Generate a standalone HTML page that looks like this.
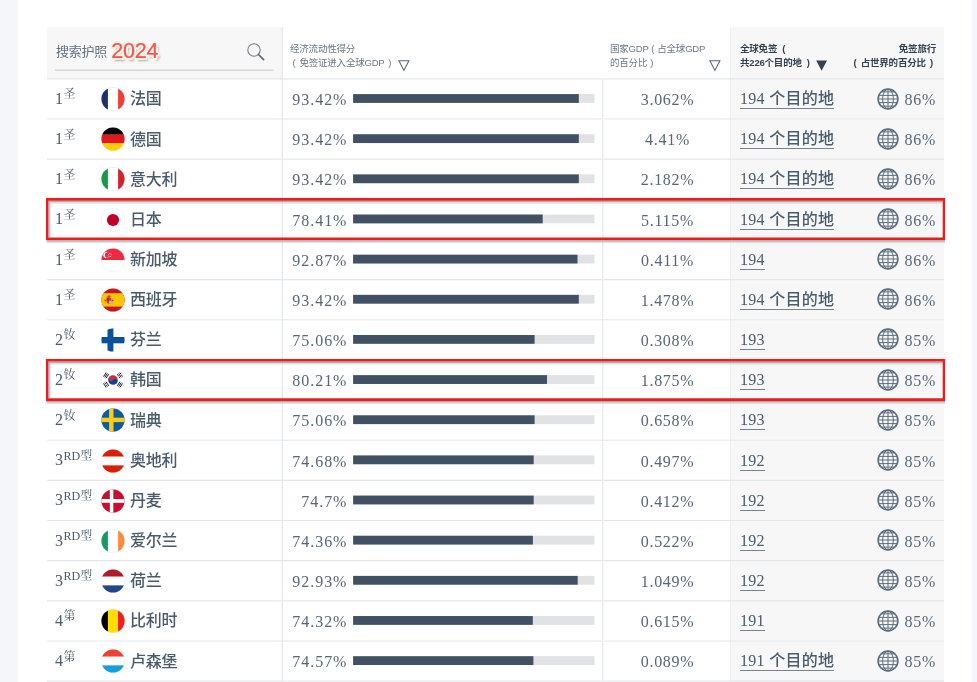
<!DOCTYPE html>
<html lang="zh-CN">
<head>
<meta charset="utf-8">
<title>护照指数 2024</title>
<style>
html,body{margin:0;padding:0;}
body{width:977px;height:682px;overflow:hidden;background:#fff;position:relative;
 font-family:"Liberation Serif","Noto Sans CJK SC",serif;color:#4a5b6c;}
.lstrip{position:absolute;left:0;top:0;width:18px;height:682px;background:#f4f6fa;}
.rstrip{position:absolute;left:972px;top:0;width:5px;height:682px;background:#f4f6fa;}
.tbl{position:absolute;left:47px;top:27px;width:897px;height:655px;}
.greycol{position:absolute;left:683px;top:0;width:213.5px;height:655px;background:#f7f7f7;border-left:1px solid #eef0f1;box-sizing:border-box}
.hd{position:absolute;left:0;top:0;width:897px;height:51px;}
.hd .c1{position:absolute;left:0;top:0;width:235px;height:51.5px;background:#f7f7f7;}
.search{position:absolute;left:9px;top:0;width:218px;height:42.5px;}
.search .lbl{position:absolute;left:0;top:16.5px;font:13px/16px "Liberation Sans","Noto Sans CJK SC",sans-serif;color:#62717f;letter-spacing:-0.25px}
.search .yr{position:absolute;left:55.3px;top:12px;font:21.5px/24px "Liberation Sans","Noto Sans CJK SC",sans-serif;color:#f6534f;-webkit-text-stroke:0.2px #f6534f;
 text-shadow:-1.5px -1.5px 0 #f6f1e6,1.5px -1.5px 0 #f6f1e6,-1.5px 1.5px 0 #f6f1e6,1.5px 1.5px 0 #f6f1e6,0 -2px 0 #f6f1e6,0 2px 0 #f6f1e6,-2px 0 0 #f6f1e6,2px 0 0 #f6f1e6,2.5px 2.5px 2px rgba(90,90,80,.5);letter-spacing:-0.2px}
.search svg{position:absolute;left:190px;top:15.4px;}
.hl{word-spacing:2.5px;position:absolute;font:9.5px/14px "Liberation Sans","Noto Sans CJK SC",sans-serif;color:#687785;white-space:nowrap;letter-spacing:-0.2px}
.hb{font-weight:bold;color:#34424f;}
.l2{padding-left:2.5px;word-spacing:1.5px}
.tri{position:absolute;}
.row{position:absolute;left:0;width:897px;height:40.15px;}
.row .v1{position:absolute;left:235px;top:0;width:1px;height:100%;background:#e2e5e8;}
.row .v2{position:absolute;left:556px;top:0;width:1px;height:100%;background:#e2e5e8;}
.rank{position:absolute;left:7.9px;top:10.6px;font-size:16px;line-height:20px;white-space:nowrap;}
.rank sup{font-family:"Liberation Serif","Noto Serif CJK SC",serif;font-size:12px;line-height:0;vertical-align:baseline;position:relative;top:-5.6px;margin-left:0.6px}
.flag{position:absolute;left:53.5px;top:8.8px;}
.name{position:absolute;left:83px;top:9px;font:500 16px/24px "Liberation Sans","Noto Sans CJK SC",sans-serif;color:#4a5b6c;white-space:nowrap;letter-spacing:-0.3px}
.score{position:absolute;left:236px;top:10.8px;width:64.4px;text-align:right;font-size:16px;line-height:22px;letter-spacing:0.95px;color:#56677a}
.bar{position:absolute;left:306px;top:16.5px;width:241px;height:8px;background:#dfe2e5;}
.bar i{display:block;height:8px;background:#3f5061;}
.gdp{position:absolute;left:557px;top:10.8px;color:#56677a;width:127px;text-align:center;font-size:16px;line-height:22px;letter-spacing:0.7px;}
.dest{font-weight:500;position:absolute;left:693px;top:9.8px;font-size:16px;line-height:22px;white-space:nowrap;letter-spacing:0.3px}
.dest span{border-bottom:1px solid #76838f;padding-bottom:0px;display:inline-block;line-height:18px}
.globe{position:absolute;left:829.8px;top:9.2px;}
.pct{position:absolute;left:840px;top:10.8px;color:#56677a;width:49px;text-align:right;font-size:16px;line-height:22px;letter-spacing:0.7px;}
.red{position:absolute;left:46px;width:899px;height:41.5px;box-sizing:border-box;border:2px solid #e8211d;
 box-shadow:1px 2px 2px rgba(70,80,90,.55), inset 1px 2px 2px rgba(70,80,90,.45);}
</style>
</head>
<body>
<div class="lstrip"></div><div class="rstrip"></div>
<div class="tbl">
<div class="greycol"></div>
<div class="hd">
 <div class="c1"><div class="search"><span class="lbl">搜索护照</span><span class="yr">2024</span>
 <svg width="22" height="22" viewBox="0 0 22 22" fill="none" stroke="#5a6a79"><circle cx="8" cy="8" r="6.2" stroke-width="1.1" stroke="#728190"/><path d="M12.5 12.5L17.6 17.6" stroke-width="1.7" stroke-linecap="round"/></svg></div></div>
 <div class="hl" style="left:243px;top:14.6px">经济流动性得分<br><span class="l2">( 免签证进入全球GDP )</span></div>
 <svg class="tri" style="left:350.8px;top:33px" width="12" height="12" viewBox="0 0 12 12"><path d="M0.9 0.8h10L5.9 10.4z" fill="none" stroke="#56687a" stroke-width="1.1"/></svg>
 <div class="hl" style="left:563px;top:14.6px;word-spacing:0.5px">国家GDP ( 占全球GDP<br>的百分比 )</div>
 <svg class="tri" style="left:661.8px;top:33.4px" width="12" height="12" viewBox="0 0 12 12"><path d="M0.9 0.8h10L5.9 10.4z" fill="none" stroke="#56687a" stroke-width="1.1"/></svg>
 <div class="hl hb" style="left:693px;top:14.6px">全球免签 (<br>共226个目的地 )</div>
 <svg class="tri" style="left:769.2px;top:33.4px" width="12" height="12" viewBox="0 0 12 12"><path d="M0.2 0.4h10.8L5.6 10.8z" fill="#34424f"/></svg>
 <div class="hl hb" style="right:8px;top:14.6px;text-align:right">免签旅行<br><span style="padding-right:3px;word-spacing:1.8px">( 占世界的百分比 )</span></div>
</div>
<div class="row" style="top:51.40px"><div class="rank">1<sup>圣</sup></div><svg class="flag" width="24" height="24" viewBox="0 0 24 24"><defs><clipPath id="c0"><circle cx="12" cy="12" r="11.55"/></clipPath></defs><circle cx="12" cy="12" r="11.7" fill="#eceef0" stroke="#e1e3e6" stroke-width="0.6"/><g clip-path="url(#c0)"><rect x="0" y="0" width="24" height="24" fill="#ffffff"/><rect x="0" y="0" width="6.9" height="24" fill="#1d2f6f"/><rect x="17.1" y="0" width="6.9" height="24" fill="#ef3e33"/></g></svg><div class="name">法国</div><div class="score">93.42%</div><div class="gdp">3.062%</div><div class="dest"><span>194 个目的地</span></div><svg class="globe" width="22" height="22" viewBox="0 0 22 22" fill="none" stroke="#5d6e7e"><circle cx="11" cy="11" r="9.9" stroke-width="1.6"/><g stroke-width="1"><ellipse cx="11" cy="11" rx="5.4" ry="9.9"/><path d="M11 1v20M1 11h20M1.8 7.4h18.4M1.8 14.6h18.4M4 3.9h14M4 18.1h14"/></g></svg><div class="pct">86%</div></div>
<div class="row" style="top:91.55px"><div class="rank">1<sup>圣</sup></div><svg class="flag" width="24" height="24" viewBox="0 0 24 24"><defs><clipPath id="c1"><circle cx="12" cy="12" r="11.55"/></clipPath></defs><circle cx="12" cy="12" r="11.7" fill="#eceef0" stroke="#e1e3e6" stroke-width="0.6"/><g clip-path="url(#c1)"><rect x="0" y="0" width="24" height="7.7" fill="#000000"/><rect x="0" y="7.7" width="24" height="8.7" fill="#e3151d"/><rect x="0" y="16.4" width="24" height="7.6" fill="#ffce00"/></g></svg><div class="name">德国</div><div class="score">93.42%</div><div class="gdp">4.41%</div><div class="dest"><span>194 个目的地</span></div><svg class="globe" width="22" height="22" viewBox="0 0 22 22" fill="none" stroke="#5d6e7e"><circle cx="11" cy="11" r="9.9" stroke-width="1.6"/><g stroke-width="1"><ellipse cx="11" cy="11" rx="5.4" ry="9.9"/><path d="M11 1v20M1 11h20M1.8 7.4h18.4M1.8 14.6h18.4M4 3.9h14M4 18.1h14"/></g></svg><div class="pct">86%</div></div>
<div class="row" style="top:131.70px"><div class="rank">1<sup>圣</sup></div><svg class="flag" width="24" height="24" viewBox="0 0 24 24"><defs><clipPath id="c2"><circle cx="12" cy="12" r="11.55"/></clipPath></defs><circle cx="12" cy="12" r="11.7" fill="#eceef0" stroke="#e1e3e6" stroke-width="0.6"/><g clip-path="url(#c2)"><rect x="0" y="0" width="24" height="24" fill="#ffffff"/><rect x="0" y="0" width="6.9" height="24" fill="#149b48"/><rect x="17.1" y="0" width="6.9" height="24" fill="#d2232c"/></g></svg><div class="name">意大利</div><div class="score">93.42%</div><div class="gdp">2.182%</div><div class="dest"><span>194 个目的地</span></div><svg class="globe" width="22" height="22" viewBox="0 0 22 22" fill="none" stroke="#5d6e7e"><circle cx="11" cy="11" r="9.9" stroke-width="1.6"/><g stroke-width="1"><ellipse cx="11" cy="11" rx="5.4" ry="9.9"/><path d="M11 1v20M1 11h20M1.8 7.4h18.4M1.8 14.6h18.4M4 3.9h14M4 18.1h14"/></g></svg><div class="pct">86%</div></div>
<div class="row" style="top:171.85px"><div class="rank">1<sup>圣</sup></div><svg class="flag" width="24" height="24" viewBox="0 0 24 24"><defs><clipPath id="c3"><circle cx="12" cy="12" r="11.55"/></clipPath></defs><circle cx="12" cy="12" r="11.7" fill="#eceef0" stroke="#e1e3e6" stroke-width="0.6"/><g clip-path="url(#c3)"><rect width="24" height="24" fill="#fff"/><circle cx="12" cy="12" r="6.1" fill="#c1002b"/></g></svg><div class="name">日本</div><div class="score">78.41%</div><div class="gdp">5.115%</div><div class="dest"><span>194 个目的地</span></div><svg class="globe" width="22" height="22" viewBox="0 0 22 22" fill="none" stroke="#5d6e7e"><circle cx="11" cy="11" r="9.9" stroke-width="1.6"/><g stroke-width="1"><ellipse cx="11" cy="11" rx="5.4" ry="9.9"/><path d="M11 1v20M1 11h20M1.8 7.4h18.4M1.8 14.6h18.4M4 3.9h14M4 18.1h14"/></g></svg><div class="pct">86%</div></div>
<div class="row" style="top:212.00px"><div class="rank">1<sup>圣</sup></div><svg class="flag" width="24" height="24" viewBox="0 0 24 24"><defs><clipPath id="c4"><circle cx="12" cy="12" r="11.55"/></clipPath></defs><circle cx="12" cy="12" r="11.7" fill="#eceef0" stroke="#e1e3e6" stroke-width="0.6"/><g clip-path="url(#c4)"><rect width="24" height="24" fill="#fff"/><rect width="24" height="12" fill="#ee2a42"/><circle cx="5.4" cy="7" r="3.1" fill="#fff"/><circle cx="6.7" cy="7" r="2.8" fill="#ee2a42"/><circle cx="8.9" cy="5.4" r="0.5" fill="#fff"/><circle cx="7.6" cy="6.7" r="0.5" fill="#fff"/><circle cx="10.2" cy="6.7" r="0.5" fill="#fff"/><circle cx="8.1" cy="8.4" r="0.5" fill="#fff"/><circle cx="9.7" cy="8.4" r="0.5" fill="#fff"/></g></svg><div class="name">新加坡</div><div class="score">92.87%</div><div class="gdp">0.411%</div><div class="dest"><span>194</span></div><svg class="globe" width="22" height="22" viewBox="0 0 22 22" fill="none" stroke="#5d6e7e"><circle cx="11" cy="11" r="9.9" stroke-width="1.6"/><g stroke-width="1"><ellipse cx="11" cy="11" rx="5.4" ry="9.9"/><path d="M11 1v20M1 11h20M1.8 7.4h18.4M1.8 14.6h18.4M4 3.9h14M4 18.1h14"/></g></svg><div class="pct">86%</div></div>
<div class="row" style="top:252.15px"><div class="rank">1<sup>圣</sup></div><svg class="flag" width="24" height="24" viewBox="0 0 24 24"><defs><clipPath id="c5"><circle cx="12" cy="12" r="11.55"/></clipPath></defs><circle cx="12" cy="12" r="11.7" fill="#eceef0" stroke="#e1e3e6" stroke-width="0.6"/><g clip-path="url(#c5)"><rect width="24" height="24" fill="#c8141e"/><rect y="5.2" width="24" height="13.4" fill="#ffc400"/><rect x="5.7" y="9.6" width="4.6" height="6" rx="1.8" fill="#b8452a"/><rect x="5.7" y="9.6" width="2.3" height="3" fill="#c8141e"/><rect x="8" y="12.4" width="2.3" height="3" rx="1" fill="#c9b7a0"/><rect x="6.4" y="7.6" width="3.2" height="2" rx="0.8" fill="#c0392b"/><rect x="3.9" y="10" width="1.1" height="5.6" fill="#c7b27a"/><rect x="11" y="10" width="1.1" height="5.6" fill="#c7b27a"/><rect x="3.6" y="11.8" width="1.7" height="1.4" fill="#c8141e" opacity=".8"/><rect x="10.7" y="11.8" width="1.7" height="1.4" fill="#c8141e" opacity=".8"/></g></svg><div class="name">西班牙</div><div class="score">93.42%</div><div class="gdp">1.478%</div><div class="dest"><span>194 个目的地</span></div><svg class="globe" width="22" height="22" viewBox="0 0 22 22" fill="none" stroke="#5d6e7e"><circle cx="11" cy="11" r="9.9" stroke-width="1.6"/><g stroke-width="1"><ellipse cx="11" cy="11" rx="5.4" ry="9.9"/><path d="M11 1v20M1 11h20M1.8 7.4h18.4M1.8 14.6h18.4M4 3.9h14M4 18.1h14"/></g></svg><div class="pct">86%</div></div>
<div class="row" style="top:292.30px"><div class="rank">2<sup>钕</sup></div><svg class="flag" width="24" height="24" viewBox="0 0 24 24"><defs><clipPath id="c6"><circle cx="12" cy="12" r="11.55"/></clipPath></defs><circle cx="12" cy="12" r="11.7" fill="#eceef0" stroke="#e1e3e6" stroke-width="0.6"/><g clip-path="url(#c6)"><rect width="24" height="24" fill="#fff"/><rect x="6.5" y="0" width="5.9" height="24" fill="#0b4f9e"/><rect x="0" y="9" width="24" height="6.3" fill="#0b4f9e"/></g></svg><div class="name">芬兰</div><div class="score">75.06%</div><div class="gdp">0.308%</div><div class="dest"><span>193</span></div><svg class="globe" width="22" height="22" viewBox="0 0 22 22" fill="none" stroke="#5d6e7e"><circle cx="11" cy="11" r="9.9" stroke-width="1.6"/><g stroke-width="1"><ellipse cx="11" cy="11" rx="5.4" ry="9.9"/><path d="M11 1v20M1 11h20M1.8 7.4h18.4M1.8 14.6h18.4M4 3.9h14M4 18.1h14"/></g></svg><div class="pct">85%</div></div>
<div class="row" style="top:332.45px"><div class="rank">2<sup>钕</sup></div><svg class="flag" width="24" height="24" viewBox="0 0 24 24"><defs><clipPath id="c7"><circle cx="12" cy="12" r="11.55"/></clipPath></defs><circle cx="12" cy="12" r="11.7" fill="#eceef0" stroke="#e1e3e6" stroke-width="0.6"/><g clip-path="url(#c7)"><rect width="24" height="24" fill="#fff"/><g transform="rotate(33.7 12 12)"><path d="M7.2 12 a4.8 4.8 0 0 1 9.6 0 z" fill="#cd2e3a"/><path d="M7.2 12 a4.8 4.8 0 0 0 9.6 0 z" fill="#0047a0"/><circle cx="9.6" cy="12" r="2.4" fill="#cd2e3a"/><circle cx="14.4" cy="12" r="2.4" fill="#0047a0"/><g stroke="#1a1a1a" stroke-width="0.9"><path d="M2.2 9.6v4.8M3.7 9.6v4.8M5.2 9.6v4.8"/><path d="M18.8 9.6v4.8M20.3 9.6v4.8M21.8 9.6v4.8"/></g></g><g transform="rotate(-33.7 12 12)" stroke="#1a1a1a" stroke-width="0.9"><path d="M2.2 9.6v4.8M3.7 9.6v2M3.7 12.4v2M5.2 9.6v4.8"/><path d="M18.8 9.6v2M18.8 12.4v2M20.3 9.6v4.8M21.8 9.6v2M21.8 12.4v2"/></g></g></svg><div class="name">韩国</div><div class="score">80.21%</div><div class="gdp">1.875%</div><div class="dest"><span>193</span></div><svg class="globe" width="22" height="22" viewBox="0 0 22 22" fill="none" stroke="#5d6e7e"><circle cx="11" cy="11" r="9.9" stroke-width="1.6"/><g stroke-width="1"><ellipse cx="11" cy="11" rx="5.4" ry="9.9"/><path d="M11 1v20M1 11h20M1.8 7.4h18.4M1.8 14.6h18.4M4 3.9h14M4 18.1h14"/></g></svg><div class="pct">85%</div></div>
<div class="row" style="top:372.60px"><div class="rank">2<sup>钕</sup></div><svg class="flag" width="24" height="24" viewBox="0 0 24 24"><defs><clipPath id="c8"><circle cx="12" cy="12" r="11.55"/></clipPath></defs><circle cx="12" cy="12" r="11.7" fill="#eceef0" stroke="#e1e3e6" stroke-width="0.6"/><g clip-path="url(#c8)"><rect width="24" height="24" fill="#0a5a9c"/><rect x="8.1" y="0" width="4.4" height="24" fill="#fecb17"/><rect x="0" y="9.7" width="24" height="4.4" fill="#fecb17"/></g></svg><div class="name">瑞典</div><div class="score">75.06%</div><div class="gdp">0.658%</div><div class="dest"><span>193</span></div><svg class="globe" width="22" height="22" viewBox="0 0 22 22" fill="none" stroke="#5d6e7e"><circle cx="11" cy="11" r="9.9" stroke-width="1.6"/><g stroke-width="1"><ellipse cx="11" cy="11" rx="5.4" ry="9.9"/><path d="M11 1v20M1 11h20M1.8 7.4h18.4M1.8 14.6h18.4M4 3.9h14M4 18.1h14"/></g></svg><div class="pct">85%</div></div>
<div class="row" style="top:412.75px"><div class="rank">3<sup>RD型</sup></div><svg class="flag" width="24" height="24" viewBox="0 0 24 24"><defs><clipPath id="c9"><circle cx="12" cy="12" r="11.55"/></clipPath></defs><circle cx="12" cy="12" r="11.7" fill="#eceef0" stroke="#e1e3e6" stroke-width="0.6"/><g clip-path="url(#c9)"><rect x="0" y="0" width="24" height="7.7" fill="#dc1e05"/><rect x="0" y="7.7" width="24" height="8.7" fill="#ffffff"/><rect x="0" y="16.4" width="24" height="7.6" fill="#dc1e05"/></g></svg><div class="name">奥地利</div><div class="score">74.68%</div><div class="gdp">0.497%</div><div class="dest"><span>192</span></div><svg class="globe" width="22" height="22" viewBox="0 0 22 22" fill="none" stroke="#5d6e7e"><circle cx="11" cy="11" r="9.9" stroke-width="1.6"/><g stroke-width="1"><ellipse cx="11" cy="11" rx="5.4" ry="9.9"/><path d="M11 1v20M1 11h20M1.8 7.4h18.4M1.8 14.6h18.4M4 3.9h14M4 18.1h14"/></g></svg><div class="pct">85%</div></div>
<div class="row" style="top:452.90px"><div class="rank">3<sup>RD型</sup></div><svg class="flag" width="24" height="24" viewBox="0 0 24 24"><defs><clipPath id="c10"><circle cx="12" cy="12" r="11.55"/></clipPath></defs><circle cx="12" cy="12" r="11.7" fill="#eceef0" stroke="#e1e3e6" stroke-width="0.6"/><g clip-path="url(#c10)"><rect width="24" height="24" fill="#c8102e"/><rect x="8.8" y="0" width="3.5" height="24" fill="#fff"/><rect x="0" y="10" width="24" height="3.8" fill="#fff"/></g></svg><div class="name">丹麦</div><div class="score">74.7%</div><div class="gdp">0.412%</div><div class="dest"><span>192</span></div><svg class="globe" width="22" height="22" viewBox="0 0 22 22" fill="none" stroke="#5d6e7e"><circle cx="11" cy="11" r="9.9" stroke-width="1.6"/><g stroke-width="1"><ellipse cx="11" cy="11" rx="5.4" ry="9.9"/><path d="M11 1v20M1 11h20M1.8 7.4h18.4M1.8 14.6h18.4M4 3.9h14M4 18.1h14"/></g></svg><div class="pct">85%</div></div>
<div class="row" style="top:493.05px"><div class="rank">3<sup>RD型</sup></div><svg class="flag" width="24" height="24" viewBox="0 0 24 24"><defs><clipPath id="c11"><circle cx="12" cy="12" r="11.55"/></clipPath></defs><circle cx="12" cy="12" r="11.7" fill="#eceef0" stroke="#e1e3e6" stroke-width="0.6"/><g clip-path="url(#c11)"><rect x="0" y="0" width="24" height="24" fill="#ffffff"/><rect x="0" y="0" width="6.9" height="24" fill="#149b62"/><rect x="17.1" y="0" width="6.9" height="24" fill="#ff8a3d"/></g></svg><div class="name">爱尔兰</div><div class="score">74.36%</div><div class="gdp">0.522%</div><div class="dest"><span>192</span></div><svg class="globe" width="22" height="22" viewBox="0 0 22 22" fill="none" stroke="#5d6e7e"><circle cx="11" cy="11" r="9.9" stroke-width="1.6"/><g stroke-width="1"><ellipse cx="11" cy="11" rx="5.4" ry="9.9"/><path d="M11 1v20M1 11h20M1.8 7.4h18.4M1.8 14.6h18.4M4 3.9h14M4 18.1h14"/></g></svg><div class="pct">85%</div></div>
<div class="row" style="top:533.20px"><div class="rank">3<sup>RD型</sup></div><svg class="flag" width="24" height="24" viewBox="0 0 24 24"><defs><clipPath id="c12"><circle cx="12" cy="12" r="11.55"/></clipPath></defs><circle cx="12" cy="12" r="11.7" fill="#eceef0" stroke="#e1e3e6" stroke-width="0.6"/><g clip-path="url(#c12)"><rect x="0" y="0" width="24" height="7.7" fill="#ae1c28"/><rect x="0" y="7.7" width="24" height="8.7" fill="#ffffff"/><rect x="0" y="16.4" width="24" height="7.6" fill="#21468b"/></g></svg><div class="name">荷兰</div><div class="score">92.93%</div><div class="gdp">1.049%</div><div class="dest"><span>192</span></div><svg class="globe" width="22" height="22" viewBox="0 0 22 22" fill="none" stroke="#5d6e7e"><circle cx="11" cy="11" r="9.9" stroke-width="1.6"/><g stroke-width="1"><ellipse cx="11" cy="11" rx="5.4" ry="9.9"/><path d="M11 1v20M1 11h20M1.8 7.4h18.4M1.8 14.6h18.4M4 3.9h14M4 18.1h14"/></g></svg><div class="pct">85%</div></div>
<div class="row" style="top:573.35px"><div class="rank">4<sup>第</sup></div><svg class="flag" width="24" height="24" viewBox="0 0 24 24"><defs><clipPath id="c13"><circle cx="12" cy="12" r="11.55"/></clipPath></defs><circle cx="12" cy="12" r="11.7" fill="#eceef0" stroke="#e1e3e6" stroke-width="0.6"/><g clip-path="url(#c13)"><rect x="0" y="0" width="24" height="24" fill="#ffdf00"/><rect x="0" y="0" width="6.9" height="24" fill="#000000"/><rect x="17.1" y="0" width="6.9" height="24" fill="#ee1c25"/></g></svg><div class="name">比利时</div><div class="score">74.32%</div><div class="gdp">0.615%</div><div class="dest"><span>191</span></div><svg class="globe" width="22" height="22" viewBox="0 0 22 22" fill="none" stroke="#5d6e7e"><circle cx="11" cy="11" r="9.9" stroke-width="1.6"/><g stroke-width="1"><ellipse cx="11" cy="11" rx="5.4" ry="9.9"/><path d="M11 1v20M1 11h20M1.8 7.4h18.4M1.8 14.6h18.4M4 3.9h14M4 18.1h14"/></g></svg><div class="pct">85%</div></div>
<div class="row" style="top:613.50px"><div class="rank">4<sup>第</sup></div><svg class="flag" width="24" height="24" viewBox="0 0 24 24"><defs><clipPath id="c14"><circle cx="12" cy="12" r="11.55"/></clipPath></defs><circle cx="12" cy="12" r="11.7" fill="#eceef0" stroke="#e1e3e6" stroke-width="0.6"/><g clip-path="url(#c14)"><rect x="0" y="0" width="24" height="7.7" fill="#ef3e33"/><rect x="0" y="7.7" width="24" height="8.7" fill="#ffffff"/><rect x="0" y="16.4" width="24" height="7.6" fill="#169ddb"/></g></svg><div class="name">卢森堡</div><div class="score">74.57%</div><div class="gdp">0.089%</div><div class="dest"><span>191 个目的地</span></div><svg class="globe" width="22" height="22" viewBox="0 0 22 22" fill="none" stroke="#5d6e7e"><circle cx="11" cy="11" r="9.9" stroke-width="1.6"/><g stroke-width="1"><ellipse cx="11" cy="11" rx="5.4" ry="9.9"/><path d="M11 1v20M1 11h20M1.8 7.4h18.4M1.8 14.6h18.4M4 3.9h14M4 18.1h14"/></g></svg><div class="pct">85%</div></div>
</div>
<svg class="grid" width="977" height="682" viewBox="0 0 977 682" style="position:absolute;left:0;top:0;pointer-events:none"><g stroke="#e4e7ea" stroke-width="1.15"><path d="M47 78.85H944"/><path d="M47 119.00H944"/><path d="M47 159.15H944"/><path d="M47 199.30H944"/><path d="M47 239.45H944"/><path d="M47 279.60H944"/><path d="M47 319.75H944"/><path d="M47 359.90H944"/><path d="M47 400.05H944"/><path d="M47 440.20H944"/><path d="M47 480.35H944"/><path d="M47 520.50H944"/><path d="M47 560.65H944"/><path d="M47 600.80H944"/><path d="M47 640.95H944"/><path d="M47 681.10H944"/><path d="M282.3 27V682"/></g><path d="M602.7 79V682" stroke="#eaecee" stroke-width="1.3"/><rect x="353.1" y="94.10" width="241.4" height="8.8" fill="#e0e2e4"/><rect x="353.1" y="94.10" width="225.7" height="8.8" fill="#3f5162"/><rect x="353.1" y="134.25" width="241.4" height="8.8" fill="#e0e2e4"/><rect x="353.1" y="134.25" width="225.7" height="8.8" fill="#3f5162"/><rect x="353.1" y="174.40" width="241.4" height="8.8" fill="#e0e2e4"/><rect x="353.1" y="174.40" width="225.7" height="8.8" fill="#3f5162"/><rect x="353.1" y="214.55" width="241.4" height="8.8" fill="#e0e2e4"/><rect x="353.1" y="214.55" width="189.6" height="8.8" fill="#3f5162"/><rect x="353.1" y="254.70" width="241.4" height="8.8" fill="#e0e2e4"/><rect x="353.1" y="254.70" width="224.4" height="8.8" fill="#3f5162"/><rect x="353.1" y="294.85" width="241.4" height="8.8" fill="#e0e2e4"/><rect x="353.1" y="294.85" width="225.7" height="8.8" fill="#3f5162"/><rect x="353.1" y="335.00" width="241.4" height="8.8" fill="#e0e2e4"/><rect x="353.1" y="335.00" width="181.5" height="8.8" fill="#3f5162"/><rect x="353.1" y="375.15" width="241.4" height="8.8" fill="#e0e2e4"/><rect x="353.1" y="375.15" width="193.9" height="8.8" fill="#3f5162"/><rect x="353.1" y="415.30" width="241.4" height="8.8" fill="#e0e2e4"/><rect x="353.1" y="415.30" width="181.5" height="8.8" fill="#3f5162"/><rect x="353.1" y="455.45" width="241.4" height="8.8" fill="#e0e2e4"/><rect x="353.1" y="455.45" width="180.6" height="8.8" fill="#3f5162"/><rect x="353.1" y="495.60" width="241.4" height="8.8" fill="#e0e2e4"/><rect x="353.1" y="495.60" width="180.6" height="8.8" fill="#3f5162"/><rect x="353.1" y="535.75" width="241.4" height="8.8" fill="#e0e2e4"/><rect x="353.1" y="535.75" width="179.8" height="8.8" fill="#3f5162"/><rect x="353.1" y="575.90" width="241.4" height="8.8" fill="#e0e2e4"/><rect x="353.1" y="575.90" width="224.6" height="8.8" fill="#3f5162"/><rect x="353.1" y="616.05" width="241.4" height="8.8" fill="#e0e2e4"/><rect x="353.1" y="616.05" width="179.7" height="8.8" fill="#3f5162"/><rect x="353.1" y="656.20" width="241.4" height="8.8" fill="#e0e2e4"/><rect x="353.1" y="656.20" width="180.3" height="8.8" fill="#3f5162"/><path d="M55 70.3H273.5" stroke="#d3d5d7" stroke-width="1.4"/><rect x="46.5" y="240.10" width="898.5" height="1.6" fill="#a3b1b4"/><rect x="46.5" y="241.70" width="898.5" height="1.5" fill="#c9d1d3" opacity=".6"/><rect x="48.2" y="200.70" width="894.5" height="1.6" fill="#a3b1b4"/><rect x="48.2" y="202.30" width="894.5" height="1.4" fill="#c9d1d3" opacity=".6"/><rect x="48.2" y="200.70" width="1.5" height="36.7" fill="#a3b1b4"/><rect x="49.7" y="202.30" width="1.2" height="35.1" fill="#c9d1d3" opacity=".55"/><path fill-rule="evenodd" fill="#f51a1a" d="M46 198.00H945V240.10H46Z M48.2 200.70V237.40H942.7V200.70Z"/><rect x="46.5" y="400.98" width="898.5" height="1.6" fill="#a3b1b4"/><rect x="46.5" y="402.58" width="898.5" height="1.5" fill="#c9d1d3" opacity=".6"/><rect x="48.2" y="361.58" width="894.5" height="1.6" fill="#a3b1b4"/><rect x="48.2" y="363.18" width="894.5" height="1.4" fill="#c9d1d3" opacity=".6"/><rect x="48.2" y="361.58" width="1.5" height="36.7" fill="#a3b1b4"/><rect x="49.7" y="363.18" width="1.2" height="35.1" fill="#c9d1d3" opacity=".55"/><path fill-rule="evenodd" fill="#f51a1a" d="M46 358.88H945V400.98H46Z M48.2 361.58V398.28H942.7V361.58Z"/></svg>
</body>
</html>
